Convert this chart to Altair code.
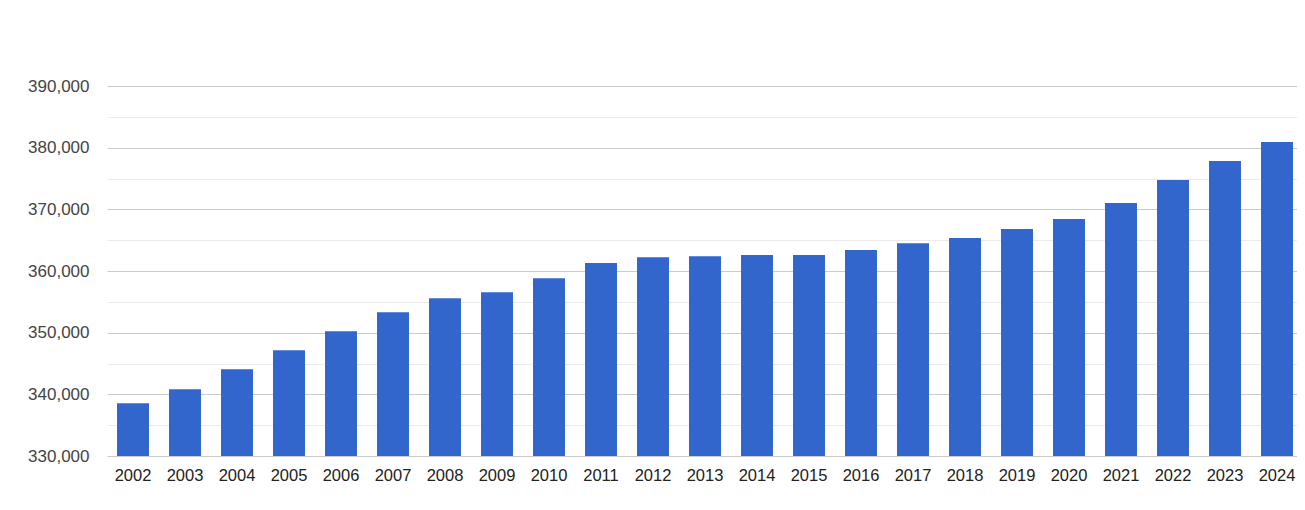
import altair as alt
import pandas as pd

years = [str(y) for y in range(2002, 2025)]
values = [338550, 340820, 344070, 347150, 350240, 353320, 355600, 356570,
          358840, 361280, 362250, 362410, 362580, 362580, 363390, 364520,
          365340, 366800, 368420, 371020, 374750, 377840, 380920]
y_ticks = list(range(330000, 390001, 5000))

source = pd.DataFrame({"year": years, "value": values})

chart = alt.Chart(source).mark_bar(color="#3366cc", clip=True).encode(
    alt.X("year:N", title=None,
          scale=alt.Scale(paddingInner=0.385, paddingOuter=0.1925),
          axis=alt.Axis(labelAngle=0, ticks=False, domain=False, grid=False,
                        labelFont="Liberation Sans", labelFontSize=16.5,
                        labelColor="#222222", labelPadding=11)),
    alt.Y("value:Q", title=None,
          scale=alt.Scale(domain=[330000, 390000], nice=False, zero=False),
          axis=alt.Axis(values=y_ticks, ticks=False, domain=False,
                        labelExpr="datum.value % 10000 === 0 ? format(datum.value, ',') : ''",
                        gridColor={"condition": {"test": "datum.value % 10000 === 0", "value": "#cccccc"},
                                   "value": "#ebebeb"},
                        labelFont="Liberation Sans", labelFontSize=17,
                        labelColor="#444444", labelPadding=18)),
).properties(
    width=1196,
    height=370,
    autosize=alt.AutoSizeParams(type="none"),
    padding={"left": 99, "top": 78, "right": -6, "bottom": 40},
).configure_view(stroke=None)

chart.save("out.html", embed_options={"renderer": "svg", "actions": False})
